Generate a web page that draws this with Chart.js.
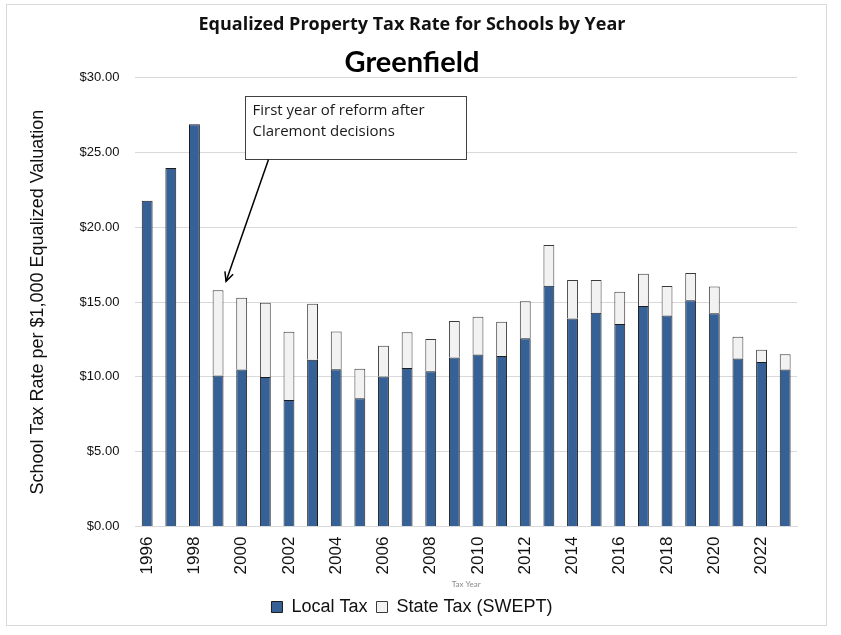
<!DOCTYPE html>
<html>
<head>
<meta charset="utf-8">
<script src="https://cdn.jsdelivr.net/npm/chart.js@4.4.1/dist/chart.umd.min.js"></script>
<style>
  html, body { margin: 0; padding: 0; background: #fff; }
  #wrap { width: 841px; height: 635px; position: relative; }
</style>
</head>
<body>
<div id="wrap"><canvas id="taxChart" width="841" height="635"></canvas></div>
<script>
// tax years
const years = ['1996','1997','1998','1999','2000','2001','2002','2003','2004','2005','2006','2007','2008','2009',
  '2010','2011','2012','2013','2014','2015','2016','2017','2018','2019','2020','2021','2022','2023'];

// local school tax rate per $1,000
const localTax = [21.77, 23.96, 26.88, 10.09, 10.49, 10.00, 8.46, 11.14, 10.52, 8.57, 10.03, 10.60, 10.38, 11.30,
  11.50, 11.39, 12.59, 16.10, 13.91, 14.29, 13.53, 14.74, 14.11, 15.12, 14.25, 11.23, 11.00, 10.50];

// state education property tax (SWEPT)
const stateTax = [0, 0, 0, 5.70, 4.80, 4.96, 4.55, 3.75, 2.52, 1.97, 2.05, 2.39, 2.15, 2.43,
  2.52, 2.29, 2.46, 2.72, 2.57, 2.19, 2.16, 2.16, 1.96, 1.83, 1.80, 1.45, 0.81, 1.02];

const yTicks = [0, 5, 10, 15, 20, 25, 30];

const noteLines = ['First year of reform after', 'Claremont decisions'];
const noteYear = '1999';

// frame around the whole chart + callout box with arrow
const extras = {
  id: 'extras',
  beforeDraw(chart) {
    const ctx = chart.ctx;
    ctx.save();
    ctx.fillStyle = '#fff';
    ctx.fillRect(0, 0, chart.width, chart.height);
    ctx.strokeStyle = '#d9d9d9';
    ctx.lineWidth = 1;
    ctx.strokeRect(6.5, 4.5, 820, 621);
    ctx.restore();
  },
  afterDraw(chart) {
    const ctx = chart.ctx;
    const x = chart.scales.x, y = chart.scales.y;
    const bx = 245.5, by = 96.5, bw = 221, bh = 63;
    ctx.save();
    ctx.fillStyle = '#fff';
    ctx.fillRect(bx, by, bw, bh);
    ctx.strokeStyle = '#404040';
    ctx.lineWidth = 1;
    ctx.strokeRect(bx, by, bw, bh);
    ctx.fillStyle = '#1a1a1a';
    ctx.font = '15px "Open Sans", Lato, sans-serif';
    ctx.textBaseline = 'middle';
    noteLines.forEach((t, i) => ctx.fillText(t, bx + 7, by + 14 + i * 21));

    // arrow pointing to the reform year bar
    const idx = years.indexOf(noteYear);
    const tipX = x.getPixelForValue(idx) + 8;
    const tipY = y.getPixelForValue(localTax[idx] + stateTax[idx] + 0.6);
    const sx = bx + 23, sy = by + bh;
    ctx.strokeStyle = '#000';
    ctx.lineWidth = 1.5;
    ctx.beginPath();
    ctx.moveTo(sx, sy);
    ctx.lineTo(tipX, tipY);
    ctx.stroke();
    const ang = Math.atan2(tipY - sy, tipX - sx);
    const len = 10;
    ctx.beginPath();
    ctx.moveTo(tipX - len * Math.cos(ang - 0.45), tipY - len * Math.sin(ang - 0.45));
    ctx.lineTo(tipX, tipY);
    ctx.lineTo(tipX - len * Math.cos(ang + 0.45), tipY - len * Math.sin(ang + 0.45));
    ctx.stroke();
    ctx.restore();
  }
};

new Chart(document.getElementById('taxChart'), {
  type: 'bar',
  data: {
    labels: years,
    datasets: [
      {
        label: 'Local Tax',
        data: localTax,
        backgroundColor: '#356196',
        borderColor: '#1c1c1c',
        borderWidth: 1,
        barPercentage: 0.46,
        categoryPercentage: 1.0
      },
      {
        label: 'State Tax (SWEPT)',
        data: stateTax,
        backgroundColor: '#f2f2f2',
        borderColor: '#3a3a3a',
        borderWidth: 1,
        barPercentage: 0.46,
        categoryPercentage: 1.0
      }
    ]
  },
  options: {
    responsive: false,
    animation: false,
    layout: { padding: { left: 27, right: 44, top: 5, bottom: 9 } },
    plugins: {
      title: {
        display: true,
        text: 'Equalized Property Tax Rate for Schools by Year',
        color: '#111',
        font: { family: '"Open Sans", Lato, sans-serif', size: 18, weight: 'bold', lineHeight: 1.2 },
        padding: { top: 9, bottom: 13 }
      },
      subtitle: {
        display: true,
        text: 'Greenfield',
        color: '#000',
        font: { family: 'Lato, "Open Sans", sans-serif', size: 29, weight: 'bold', lineHeight: 1.0 },
        padding: { top: 0, bottom: 0 }
      },
      legend: {
        position: 'bottom',
        labels: {
          color: '#111',
          font: { family: '"Liberation Sans", Arial, sans-serif', size: 18 },
          boxWidth: 11,
          boxHeight: 11,
          padding: 9
        }
      },
      tooltip: { enabled: false }
    },
    scales: {
      x: {
        stacked: true,
        grid: { display: false },
        border: { display: true, color: '#d9d9d9' },
        ticks: {
          autoSkip: false,
          minRotation: 90,
          maxRotation: 90,
          padding: 2,
          color: '#111',
          font: { family: '"Liberation Sans", Arial, sans-serif', size: 17 },
          callback: (v, i) => (i % 2 === 0 ? years[i] : '')
        },
        title: {
          display: true,
          text: 'Tax Year',
          color: '#8a8a8a',
          font: { family: 'Lato, sans-serif', size: 8 },
          padding: { top: 3, bottom: 0 }
        }
      },
      y: {
        stacked: true,
        min: 0,
        max: 30,
        afterBuildTicks: (axis) => { axis.ticks = yTicks.map(v => ({ value: v })); },
        grid: { color: '#d9d9d9', drawTicks: false },
        border: { display: false },
        ticks: {
          padding: 16,
          color: '#111',
          font: { family: '"Liberation Sans", Arial, sans-serif', size: 13 },
          callback: (v) => '$' + Number(v).toFixed(2)
        },
        title: {
          display: true,
          text: 'School Tax Rate per $1,000 Equalized Valuation',
          color: '#111',
          font: { family: '"Liberation Sans", Arial, sans-serif', size: 18 },
          padding: { top: 0, bottom: 15 }
        }
      }
    }
  },
  plugins: [extras]
});
</script>
</body>
</html>
